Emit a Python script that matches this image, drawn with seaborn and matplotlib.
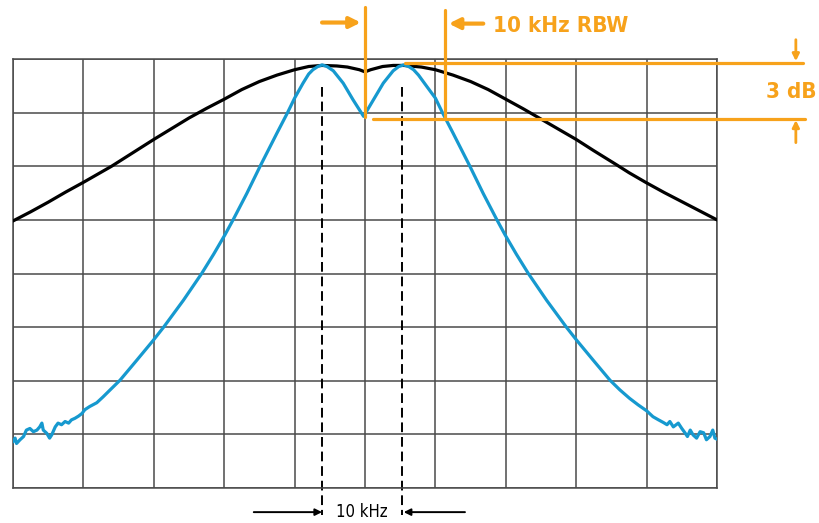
import matplotlib
matplotlib.use("Agg")
import matplotlib.pyplot as plt
import seaborn as sns
import pandas as pd

# ======================================
# DATA (screen divisions: x 0..10, y 0..8)
# ======================================
black_x = [0.0, 0.25, 0.5, 0.75, 1.0, 1.2, 1.4, 1.7, 2.0, 2.25, 2.5, 2.75, 3.0, 3.25,
           3.5, 3.75, 4.0, 4.2, 4.39, 4.6, 4.75, 4.92, 5.0, 5.08, 5.25, 5.4, 5.55,
           5.8, 6.0, 6.25, 6.5, 6.75, 7.0, 7.25, 7.5, 7.75, 8.0, 8.25, 8.57, 8.75,
           9.0, 9.25, 9.5, 9.75, 10.0]
black_y = [4.98, 5.15, 5.33, 5.52, 5.70, 5.85, 6.00, 6.25, 6.50, 6.70, 6.90, 7.08, 7.25,
           7.43, 7.58, 7.70, 7.80, 7.86, 7.88, 7.87, 7.85, 7.80, 7.76, 7.80, 7.86, 7.88,
           7.88, 7.85, 7.80, 7.70, 7.58, 7.43, 7.25, 7.07, 6.88, 6.69, 6.50, 6.29,
           6.03, 5.88, 5.69, 5.51, 5.34, 5.17, 5.00]

blue_x = [0.00, 0.03, 0.05, 0.10, 0.15, 0.19, 0.24, 0.29, 0.34, 0.38, 0.41, 0.43,
          0.48, 0.52, 0.55, 0.60, 0.64, 0.69, 0.74, 0.79, 0.83, 0.88, 0.93, 0.98,
          1.02, 1.09, 1.19, 1.28, 1.38, 1.52, 1.75, 1.99, 2.14, 2.42, 2.68, 2.85,
          3.01, 3.13, 3.32, 3.51, 3.75, 3.90, 4.00, 4.12, 4.20, 4.26, 4.33, 4.39,
          4.46, 4.55, 4.69, 4.83, 4.98, 5.12, 5.26, 5.40, 5.48, 5.55, 5.62, 5.69,
          5.76, 5.86, 6.00, 6.10, 6.25, 6.49, 6.68, 6.87, 6.99, 7.15, 7.32, 7.58,
          7.86, 8.01, 8.25, 8.48, 8.62, 8.76, 8.88, 9.00, 9.09, 9.17, 9.24, 9.29,
          9.33, 9.38, 9.45, 9.50, 9.55, 9.58, 9.62, 9.66, 9.71, 9.76, 9.81, 9.85,
          9.90, 9.94, 9.97, 10.00]
blue_y = [0.86, 0.93, 0.83, 0.90, 0.96, 1.08, 1.11, 1.05, 1.08, 1.14, 1.21, 1.08,
          1.02, 0.93, 0.99, 1.14, 1.21, 1.18, 1.24, 1.21, 1.27, 1.30, 1.34, 1.39,
          1.46, 1.52, 1.59, 1.70, 1.83, 2.01, 2.37, 2.75, 3.00, 3.50, 4.00, 4.36,
          4.72, 5.01, 5.49, 6.00, 6.62, 7.00, 7.27, 7.55, 7.72, 7.80, 7.86, 7.89,
          7.86, 7.78, 7.55, 7.24, 6.93, 7.24, 7.55, 7.78, 7.86, 7.89, 7.86, 7.80,
          7.70, 7.52, 7.27, 7.00, 6.62, 6.00, 5.49, 5.01, 4.72, 4.36, 4.00, 3.50,
          3.00, 2.75, 2.37, 2.01, 1.83, 1.67, 1.55, 1.44, 1.33, 1.27, 1.22, 1.18,
          1.24, 1.14, 1.21, 1.11, 1.02, 0.96, 1.08, 0.99, 0.93, 1.05, 1.03, 0.90,
          0.96, 1.08, 0.93, 0.91]

peak_x = [4.39, 5.53]

ORANGE = "#F7A21B"
BLUE = "#1699CF"
GRID = "#4a4a4a"
FONT = dict(family=["DejaVu Sans"], fontstretch="condensed")

black_df = pd.DataFrame({"x": black_x, "y": black_y})
blue_df = pd.DataFrame({"x": blue_x, "y": blue_y})

# ======================================
# PLOT
# ======================================
sns.set_style("white")
fig = plt.figure(figsize=(8.19, 5.23), dpi=100)
ax = fig.add_axes([13 / 819, 35 / 523, 704 / 819, 429 / 523])

sns.lineplot(data=black_df, x="x", y="y", ax=ax, color="black", lw=2.3,
             sort=False, estimator=None, zorder=3)
sns.lineplot(data=blue_df, x="x", y="y", ax=ax, color=BLUE, lw=2.3,
             sort=False, estimator=None, zorder=4)

ax.set_xlim(0, 10)
ax.set_ylim(0, 8)
ax.set_xticks(range(11))
ax.set_yticks(range(9))
ax.grid(True, color=GRID, lw=1.1)
ax.tick_params(length=0, labelbottom=False, labelleft=False)
for s in ax.spines.values():
    s.set_color(GRID)
    s.set_linewidth(1.1)
ax.set_xlabel("")
ax.set_ylabel("")

# dashed markers at the two signals
for px in peak_x:
    ax.plot([px, px], [7.48, -0.50], color="black", lw=1.4, dashes=(5, 2.5),
            clip_on=False, zorder=2)

# 10 kHz spacing arrows
ax.annotate("", xy=(peak_x[0], -0.45), xytext=(3.42, -0.45), annotation_clip=False,
            arrowprops=dict(arrowstyle="-|>", color="black", lw=1.4, mutation_scale=10,
                            shrinkA=0, shrinkB=0))
ax.annotate("", xy=(peak_x[1] + 0.02, -0.45), xytext=(6.42, -0.45), annotation_clip=False,
            arrowprops=dict(arrowstyle="-|>", color="black", lw=1.4, mutation_scale=10,
                            shrinkA=0, shrinkB=0))
ax.text(4.96, -0.45, "10 kHz", ha="center", va="center", fontsize=12,
        color="black", **FONT)

# RBW markers
ax.plot([5.0, 5.0], [8.97, 6.92], color=ORANGE, lw=2.3, clip_on=False, zorder=5)
ax.plot([6.14, 6.14], [8.92, 6.88], color=ORANGE, lw=2.3, clip_on=False, zorder=5)
ax.annotate("", xy=(4.94, 8.68), xytext=(4.39, 8.68), annotation_clip=False,
            arrowprops=dict(arrowstyle="-|>", color=ORANGE, lw=3, mutation_scale=16,
                            shrinkA=0, shrinkB=0))
ax.annotate("", xy=(6.19, 8.66), xytext=(6.68, 8.66), annotation_clip=False,
            arrowprops=dict(arrowstyle="-|>", color=ORANGE, lw=3, mutation_scale=16,
                            shrinkA=0, shrinkB=0))
ax.text(6.82, 8.62, "10 kHz RBW", ha="left", va="center", fontsize=16,
        fontweight="bold", color=ORANGE, **FONT)

# 3 dB markers
ax.plot([5.57, 11.22], [7.93, 7.93], color=ORANGE, lw=2.3, clip_on=False, zorder=5)
ax.plot([5.11, 11.25], [6.88, 6.88], color=ORANGE, lw=2.3, clip_on=False, zorder=5)
ax.annotate("", xy=(11.12, 7.96), xytext=(11.12, 8.36), annotation_clip=False,
            arrowprops=dict(arrowstyle="-|>", color=ORANGE, lw=2, mutation_scale=10,
                            shrinkA=0, shrinkB=0))
ax.annotate("", xy=(11.12, 6.86), xytext=(11.12, 6.44), annotation_clip=False,
            arrowprops=dict(arrowstyle="-|>", color=ORANGE, lw=2, mutation_scale=10,
                            shrinkA=0, shrinkB=0))
ax.text(11.06, 7.39, "3 dB", ha="center", va="center", fontsize=16,
        fontweight="bold", color=ORANGE, **FONT)

fig.savefig("out.png", dpi=100)
